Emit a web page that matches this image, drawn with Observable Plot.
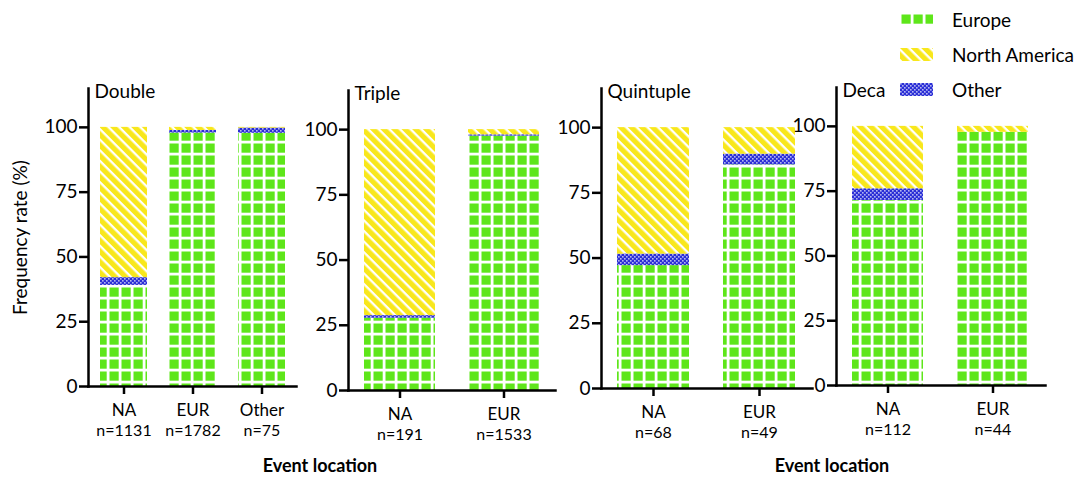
<!DOCTYPE html>
<html>
<head>
<meta charset="utf-8">
<script src="https://cdn.jsdelivr.net/npm/d3@7"></script>
<script src="https://cdn.jsdelivr.net/npm/@observablehq/plot@0.6"></script>
<style>
  html, body { margin: 0; padding: 0; background: #fff; }
  #root { position: relative; width: 1092px; height: 481px; overflow: hidden; font-family: Lato, "Open Sans", sans-serif; color: #000; }
  #root svg { overflow: visible; }
  .panel { position: absolute; }
  .xtitle { position: absolute; font-weight: bold; font-size: 18px; transform: translate(-50%, -50%); white-space: nowrap; }
  .legend { position: absolute; left: 900px; top: 0; }
  .legrow { position: absolute; left: 0; display: flex; align-items: center; white-space: nowrap; font-size: 19px; }
  .legrow svg { margin-right: 19px; }
</style>
</head>
<body>
<svg width="0" height="0" style="position:absolute">
  <defs>
    <pattern id="pEU" patternUnits="userSpaceOnUse" width="12" height="12">
      <rect x="1.5" y="1.5" width="9.2" height="9.2" fill="#5ee61a"/>
    </pattern>
    <pattern id="pNA" patternUnits="userSpaceOnUse" width="7.5" height="10" patternTransform="rotate(-45)">
      <rect x="0" y="0" width="5.2" height="10" fill="#f8e71c"/>
    </pattern>
    <pattern id="pOT" patternUnits="userSpaceOnUse" width="4" height="4">
      <rect x="0" y="0" width="4" height="4" fill="#2b2fd6"/>
      <rect x="0.2" y="0.2" width="1.3" height="1.3" fill="#fff"/>
      <rect x="2.2" y="2.2" width="1.3" height="1.3" fill="#fff"/>
    </pattern>
  </defs>
</svg>
<div id="root"></div>
<script>
// ---- data ----
const panelTitles = ["Double", "Triple", "Quintuple", "Deca"];
const locations = [["NA", "EUR", "Other"], ["NA", "EUR"], ["NA", "EUR"], ["NA", "EUR"]];
const sampleSizes = [[1131, 1782, 75], [191, 1533], [68, 49], [112, 44]];
const seriesNames = ["Europe", "Other", "North America"]; // stacking order, bottom to top
const europeValues = [[39, 97.8, 97.7], [27.7, 97.5], [47.1, 85.7], [71.4, 97.7]];
const otherValues = [[3, 1.0, 2.0], [1.0, 0.5], [4.4, 4.1], [4.5, 0]];
const northAmericaValues = [[58, 1.2, 0.3], [71.3, 2.0], [48.5, 10.2], [24.1, 2.3]];
const yTicks = [0, 25, 50, 75, 100];
const yLabel = "Frequency rate (%)";
const xTitle = "Event location";
const legendNames = ["Europe", "North America", "Other"];

const patternOf = {"Europe": "url(#pEU)", "North America": "url(#pNA)", "Other": "url(#pOT)"};

// ---- layout (pixels) ----
const layout = [
  {left: 0,   top: 70, width: 300, height: 380, ml: 88, mr: 4, mt: 18, mb: 64},
  {left: 300, top: 70, width: 260, height: 380, ml: 48, mr: 5, mt: 20, mb: 60},
  {left: 560, top: 70, width: 256, height: 380, ml: 41, mr: 4, mt: 18, mb: 62},
  {left: 800, top: 70, width: 250, height: 380, ml: 36, mr: 5, mt: 17, mb: 65}
];

const root = document.getElementById("root");

panelTitles.forEach((title, p) => {
  const L = layout[p];
  const rows = [];
  locations[p].forEach((loc, i) => {
    rows.push({loc, series: "Europe", value: europeValues[p][i]});
    rows.push({loc, series: "Other", value: otherValues[p][i]});
    rows.push({loc, series: "North America", value: northAmericaValues[p][i]});
  });
  const chart = Plot.plot({
    width: L.width, height: L.height,
    marginLeft: L.ml, marginRight: L.mr, marginTop: L.mt, marginBottom: L.mb,
    style: {fontFamily: "Lato, 'Open Sans', sans-serif", fontSize: "18px", color: "#000", background: "transparent"},
    x: {domain: locations[p], paddingInner: 0.32, paddingOuter: 0.15},
    y: {domain: [0, 115]},
    color: {domain: seriesNames, range: seriesNames.map(s => patternOf[s])},
    marks: [
      Plot.barY(rows, {x: "loc", y: "value", fill: "series"}),
      Plot.frame({anchor: "left", strokeWidth: 2.5}),
      Plot.frame({anchor: "bottom", strokeWidth: 2.5}),
      Plot.axisY({
        ticks: yTicks, tickSize: 9, tickPadding: 2, strokeWidth: 2.5, fontSize: 19,
        label: p === 0 ? yLabel : null, labelAnchor: "center", labelArrow: "none", labelOffset: 75
      }),
      Plot.axisX({tickSize: 8, tickPadding: 9, strokeWidth: 2.5, fontSize: 17, label: null}),
      Plot.text(locations[p], {x: d => d, text: (d, i) => "n=" + sampleSizes[p][i], frameAnchor: "bottom", lineAnchor: "middle", dy: 44, fontSize: 16}),
      Plot.text([title], {text: d => d, frameAnchor: "top-left", dx: 6, dy: -4, fontSize: 19})
    ]
  });
  chart.classList.add("panel");
  chart.style.left = L.left + "px";
  chart.style.top = L.top + "px";
  root.appendChild(chart);
});

// x-axis titles
[[320, 465], [832, 465]].forEach(([x, y]) => {
  const d = document.createElement("div");
  d.className = "xtitle";
  d.style.left = x + "px";
  d.style.top = y + "px";
  d.textContent = xTitle;
  root.appendChild(d);
});

// legend
const legend = document.createElement("div");
legend.className = "legend";
const rowTops = [19, 54, 89];
legendNames.forEach((name, i) => {
  const r = document.createElement("div");
  r.className = "legrow";
  r.style.top = (rowTops[i] - 13) + "px";
  r.style.height = "26px";
  r.innerHTML = `<svg width="33" height="13"><rect width="33" height="13" fill="${patternOf[name]}"/></svg><span>${name}</span>`;
  legend.appendChild(r);
});
root.appendChild(legend);
</script>
</body>
</html>
